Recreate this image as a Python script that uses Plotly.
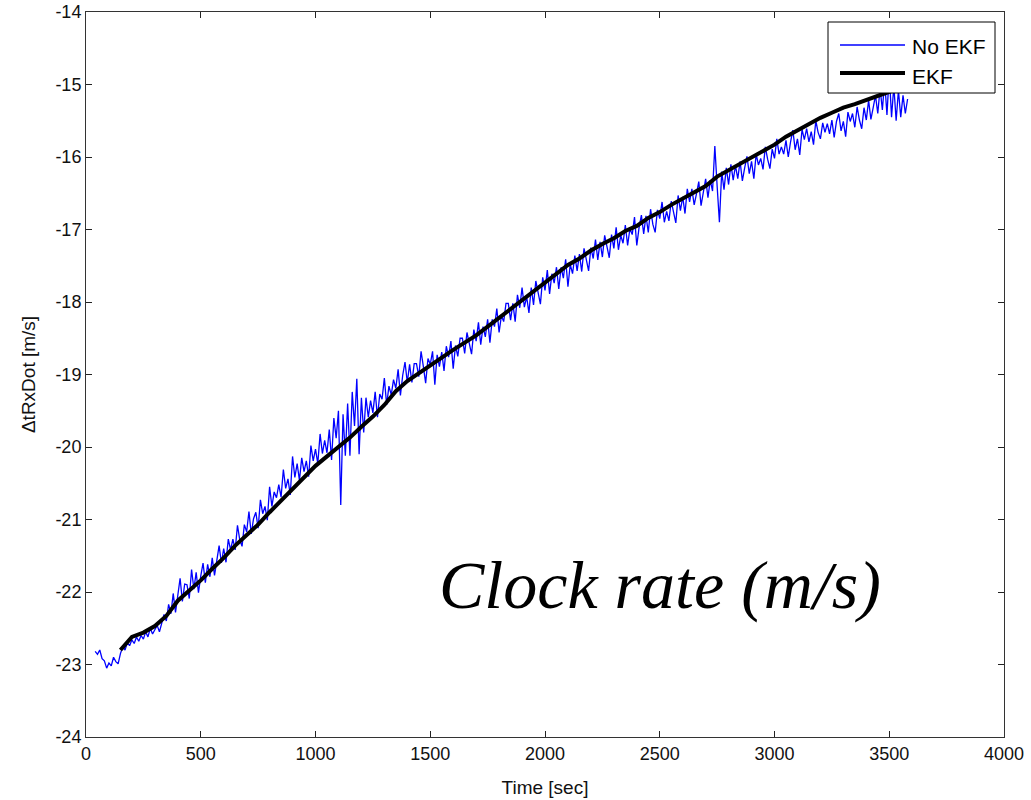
import plotly.graph_objects as go

# ---------------- data ----------------
blue_t = list(range(40, 3590, 10))
blue_v = [
    -22.82, -22.86, -22.80, -22.92, -22.95, -23.05, -22.98, -23.02, -22.90, -22.96,
    -22.99, -22.85, -22.76, -22.80, -22.70, -22.74, -22.66, -22.71, -22.62, -22.68,
    -22.60, -22.65, -22.55, -22.62, -22.50, -22.58, -22.52, -22.46, -22.55, -22.44,
    -22.31, -22.40, -22.17, -22.30, -22.02, -22.28, -22.06, -21.81, -22.13, -21.89,
    -21.90, -22.09, -21.69, -21.96, -21.73, -22.01, -21.78, -21.60, -21.87, -21.62,
    -21.79, -21.53, -21.77, -21.53, -21.36, -21.60, -21.40, -21.59, -21.27, -21.42,
    -21.27, -21.42, -21.08, -21.28, -21.37, -21.07, -21.17, -20.89, -21.20, -20.99,
    -20.90, -21.12, -20.73, -20.92, -20.82, -21.01, -20.55, -20.82, -20.62, -20.70,
    -20.52, -20.69, -20.31, -20.57, -20.44, -20.66, -20.13, -20.42, -20.23, -20.46,
    -20.15, -20.34, -20.19, -20.41, -19.98, -20.19, -20.03, -20.23, -19.82, -20.09,
    -19.91, -20.08, -19.76, -20.18, -19.60, -19.88, -19.50, -20.80, -19.55, -20.12,
    -19.40, -20.12, -19.24, -19.71, -19.06, -20.10, -19.32, -19.80, -19.32, -19.59,
    -19.36, -19.53, -19.24, -19.59, -19.27, -19.34, -19.05, -19.42, -19.16, -19.28,
    -19.07, -19.19, -18.93, -19.29, -19.01, -18.83, -19.11, -18.86, -19.11, -18.85,
    -18.85, -19.03, -18.68, -18.89, -19.12, -18.78, -18.86, -18.68, -19.14, -18.73,
    -18.89, -18.69, -18.95, -18.61, -18.76, -18.54, -18.92, -18.60, -18.75, -18.50,
    -18.50, -18.71, -18.42, -18.57, -18.72, -18.38, -18.54, -18.28, -18.59, -18.34,
    -18.48, -18.24, -18.56, -18.24, -18.34, -18.09, -18.42, -18.19, -18.27, -18.02,
    -18.02, -18.25, -18.02, -18.27, -17.90, -18.08, -17.80, -18.07, -17.93, -18.15,
    -17.80, -18.04, -17.71, -17.87, -18.03, -17.66, -17.84, -17.56, -17.89, -17.61,
    -17.74, -17.52, -17.82, -17.52, -17.67, -17.41, -17.79, -17.48, -17.61, -17.36,
    -17.57, -17.34, -17.58, -17.26, -17.42, -17.57, -17.25, -17.40, -17.14, -17.42,
    -17.17, -17.38, -17.08, -17.26, -17.39, -17.07, -17.26, -16.97, -17.28, -17.08,
    -17.19, -16.94, -17.22, -16.99, -17.07, -16.83, -17.22, -16.97, -16.80, -17.06,
    -16.81, -17.04, -16.72, -16.93, -17.04, -16.73, -16.85, -16.62, -16.90, -16.75,
    -16.88, -16.61, -16.76, -16.91, -16.53, -16.74, -16.55, -16.78, -16.44, -16.62,
    -16.44, -16.66, -16.51, -16.34, -16.67, -16.48, -16.30, -16.56, -16.32, -16.47,
    -15.85, -16.40, -16.90, -16.20, -16.45, -16.15, -16.38, -16.10, -16.32, -16.12,
    -16.30, -16.06, -16.33, -16.15, -15.99, -16.23, -16.06, -16.30, -15.96, -16.11,
    -16.02, -16.17, -15.86, -16.03, -16.16, -15.89, -16.02, -15.75, -15.96, -15.86,
    -15.96, -15.77, -16.00, -15.79, -15.63, -15.90, -15.75, -15.97, -15.62, -15.76,
    -15.61, -15.79, -15.65, -15.83, -15.50, -15.66, -15.75, -15.53, -15.66, -15.54,
    -15.68, -15.49, -15.73, -15.51, -15.40, -15.64, -15.51, -15.72, -15.38, -15.51,
    -15.40, -15.59, -15.31, -15.49, -15.61, -15.32, -15.49, -15.22, -15.48, -15.32,
    -15.15, -15.40, -15.05, -15.35, -14.95, -15.42, -14.85, -15.45, -15.02, -15.50,
    -15.08, -15.45, -15.15, -15.40, -15.20,
]

ekf_t = list(range(150, 3600, 50))
ekf_v = [
    -22.80, -22.62, -22.56, -22.47, -22.33, -22.12, -21.98, -21.84, -21.68, -21.53,
    -21.36, -21.21, -21.07, -20.90, -20.74, -20.57, -20.42, -20.26, -20.13, -20.00,
    -19.87, -19.72, -19.58, -19.42, -19.23, -19.09, -18.98, -18.87, -18.77, -18.66,
    -18.56, -18.46, -18.34, -18.22, -18.10, -17.97, -17.86, -17.74, -17.62, -17.49,
    -17.40, -17.29, -17.20, -17.12, -17.02, -16.95, -16.84, -16.76, -16.66, -16.57,
    -16.48, -16.40, -16.27, -16.18, -16.10, -16.01, -15.92, -15.83, -15.72, -15.63,
    -15.54, -15.46, -15.39, -15.32, -15.27, -15.21, -15.15, -15.10, -15.05,
]

x_ticks = [0, 500, 1000, 1500, 2000, 2500, 3000, 3500, 4000]
x_labels = ["0", "500", "1000", "1500", "2000", "2500", "3000", "3500", "4000"]
y_ticks = [-24, -23, -22, -21, -20, -19, -18, -17, -16, -15, -14]
y_labels = ["-24", "-23", "-22", "-21", "-20", "-19", "-18", "-17", "-16", "-15", "-14"]

series_names = ["No EKF", "EKF"]

# ---------------- layout geometry (pixels) ----------------
W, H = 1031, 800
L, R, T, B = 86, 27, 12, 63
PW, PH = W - L - R, H - T - B


def px(x):
    return (x - L) / PW


def py(y):
    return 1 - (y - T) / PH


# ---------------- figure ----------------
fig = go.Figure()
fig.add_trace(go.Scatter(x=blue_t, y=blue_v, mode="lines", name=series_names[0],
                         line=dict(color="#0000FF", width=1.3)))
fig.add_trace(go.Scatter(x=ekf_t, y=ekf_v, mode="lines", name=series_names[1],
                         line=dict(color="#000000", width=4)))

tick_font = dict(family="Liberation Sans, Arial, sans-serif", size=18, color="#111")
title_font = dict(family="Liberation Sans, Arial, sans-serif", size=19, color="#111")
fig.update_layout(
    width=W, height=H,
    margin=dict(l=L, r=R, t=T, b=B),
    paper_bgcolor="white", plot_bgcolor="white",
    font=tick_font,
    showlegend=False,
    xaxis=dict(range=[0, 4000], tickvals=x_ticks, ticktext=x_labels, automargin=False,
               showgrid=False, zeroline=False, showline=True, linecolor="#333",
               linewidth=1, mirror="ticks", ticks="inside", ticklen=6,
               tickcolor="#222", tickfont=tick_font,
               title=dict(text="Time [sec]", standoff=18, font=title_font)),
    yaxis=dict(range=[-24, -14], tickvals=y_ticks, ticktext=y_labels, automargin=False,
               showgrid=False, zeroline=False, showline=True, linecolor="#333",
               linewidth=1, mirror="ticks", ticks="inside", ticklen=6,
               tickcolor="#222", tickfont=tick_font,
               title=dict(text="ΔtRxDot [m/s]", standoff=14, font=title_font)),
)

# custom legend (box, line samples, labels)
fig.add_shape(type="rect", xref="paper", yref="paper",
              x0=px(828), x1=px(995), y0=py(93), y1=py(22),
              line=dict(color="#000", width=1), fillcolor="white", layer="above")
fig.add_shape(type="line", xref="paper", yref="paper",
              x0=px(840), x1=px(905), y0=py(45), y1=py(45),
              line=dict(color="#0000FF", width=1.3), layer="above")
fig.add_shape(type="line", xref="paper", yref="paper",
              x0=px(840), x1=px(905), y0=py(73), y1=py(73),
              line=dict(color="#000000", width=4), layer="above")
legend_font = dict(family="Liberation Sans, Arial, sans-serif", size=21, color="#000")
fig.add_annotation(text=series_names[0], x=px(910), y=py(46), xref="paper", yref="paper",
                   xanchor="left", yanchor="middle", showarrow=False, font=legend_font)
fig.add_annotation(text=series_names[1], x=px(910), y=py(77), xref="paper", yref="paper",
                   xanchor="left", yanchor="middle", showarrow=False, font=legend_font)

fig.add_annotation(text="<i>Clock rate (m/s)</i>", x=px(660), y=py(585),
                   xref="paper", yref="paper", showarrow=False,
                   xanchor="center", yanchor="middle",
                   font=dict(family="Liberation Serif, serif", size=68, color="#000"))

fig.write_html("out.html", config={"displayModeBar": False},
               post_script="document.body.style.margin='0px';document.body.style.overflow='hidden';")
